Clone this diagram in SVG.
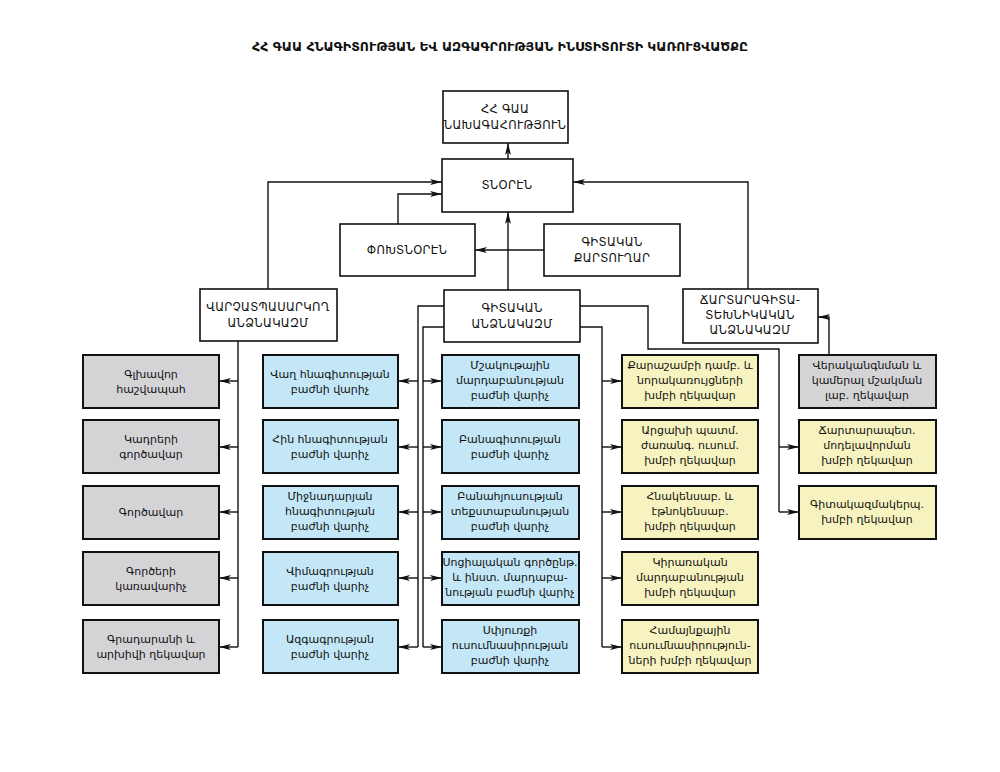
<svg xmlns="http://www.w3.org/2000/svg" width="1000" height="772" viewBox="0 0 1000 772">
<style>
text{font-family:"DejaVu Sans","Noto Sans",sans-serif;font-size:11px;text-anchor:middle;fill:#111}
.h text{font-size:11.5px;letter-spacing:0.3px}
.t{font-size:12.5px;font-weight:bold}
.h rect{fill:#fff;stroke:#111;stroke-width:1.6}
.g{fill:#d4d4d7;stroke:#111;stroke-width:2}
.b{fill:#c3e7f6;stroke:#111;stroke-width:2}
.y{fill:#f6f3c0;stroke:#111;stroke-width:2}
#c path{fill:none;stroke:#111;stroke-width:1.4}
</style>
<defs><marker id="a" viewBox="0 0 12 6" refX="12" refY="3" markerWidth="12" markerHeight="6" markerUnits="userSpaceOnUse" orient="auto"><path d="M0,0L12,3L0,6L3,3z" fill="#111"/></marker></defs>
<text class="t" x="500" y="51">ՀՀ ԳԱԱ ՀՆԱԳԻՏՈՒԹՅԱՆ ԵՎ ԱԶԳԱԳՐՈՒԹՅԱՆ ԻՆՍՏԻՏՈՒՏԻ ԿԱՌՈՒՑՎԱԾՔԸ</text>
<g id="c">
<path d="M508,159V143" marker-end="url(#a)"/>
<path d="M268,289V182H442" marker-end="url(#a)"/>
<path d="M398,224V194H442" marker-end="url(#a)"/>
<path d="M544,250H475" marker-end="url(#a)"/>
<path d="M508,290V212" marker-end="url(#a)"/>
<path d="M748,289V182H573" marker-end="url(#a)"/>
<path d="M829,355V317H818" marker-end="url(#a)"/>
<path d="M238,341V647"/>
<path d="M238,381H219" marker-end="url(#a)"/><path d="M238,447H219" marker-end="url(#a)"/><path d="M238,512H219" marker-end="url(#a)"/><path d="M238,578H219" marker-end="url(#a)"/><path d="M238,647H219" marker-end="url(#a)"/>
<path d="M444,306H418V647"/>
<path d="M418,381H398" marker-end="url(#a)"/><path d="M418,447H398" marker-end="url(#a)"/><path d="M418,512H398" marker-end="url(#a)"/><path d="M418,578H398" marker-end="url(#a)"/><path d="M418,647H398" marker-end="url(#a)"/>
<path d="M444,327H423V647"/>
<path d="M423,381H442" marker-end="url(#a)"/><path d="M423,447H442" marker-end="url(#a)"/><path d="M423,512H442" marker-end="url(#a)"/><path d="M423,578H442" marker-end="url(#a)"/><path d="M423,647H442" marker-end="url(#a)"/>
<path d="M580,327H602V647"/>
<path d="M602,381H622" marker-end="url(#a)"/><path d="M602,447H622" marker-end="url(#a)"/><path d="M602,512H622" marker-end="url(#a)"/><path d="M602,578H622" marker-end="url(#a)"/><path d="M602,647H622" marker-end="url(#a)"/>
<path d="M580,306H648V349H779V512"/>
<path d="M779,447H799" marker-end="url(#a)"/><path d="M779,512H799" marker-end="url(#a)"/>
</g>
<g class="h">
<g id="n-pres"><rect x="443" y="91" width="125" height="52"/><text x="505" y="113">ՀՀ ԳԱԱ</text><text x="505" y="129">ՆԱԽԱԳԱՀՈՒԹՅՈՒՆ</text></g>
<g id="n-dir"><rect x="442" y="159" width="131" height="53"/><text x="507" y="189">ՏՆՕՐԷՆ</text></g>
<g id="n-dep"><rect x="340" y="224" width="135" height="52"/><text x="407" y="254">ՓՈԽՏՆՕՐԷՆ</text></g>
<g id="n-sec"><rect x="544" y="224" width="136" height="52"/><text x="612" y="246">ԳԻՏԱԿԱՆ</text><text x="612" y="262">ՔԱՐՏՈՒՂԱՐ</text></g>
<g id="n-adm"><rect x="200" y="289" width="137" height="52"/><text x="268" y="311">ՎԱՐՉԱՏՊԱՍԱՐԿՈՂ</text><text x="268" y="327">ԱՆՁՆԱԿԱԶՄ</text></g>
<g id="n-sci"><rect x="444" y="290" width="136" height="52"/><text x="512" y="312">ԳԻՏԱԿԱՆ</text><text x="512" y="328">ԱՆՁՆԱԿԱԶՄ</text></g>
<g id="n-eng"><rect x="683" y="289" width="135" height="54"/><text x="750" y="304">ՃԱՐՏԱՐԱԳԻՏԱ-</text><text x="750" y="319">ՏԵԽՆԻԿԱԿԱՆ</text><text x="750" y="334">ԱՆՁՆԱԿԱԶՄ</text></g>
</g>
<g id="g1"><rect class="g" x="83" y="355" width="136" height="53"/><text x="151" y="378">Գլխավոր</text><text x="151" y="393">հաշվապահ</text></g>
<g id="g2"><rect class="g" x="83" y="420" width="136" height="53"/><text x="151" y="443">Կադրերի</text><text x="151" y="458">գործավար</text></g>
<g id="g3"><rect class="g" x="83" y="486" width="136" height="53"/><text x="151" y="516">Գործավար</text></g>
<g id="g4"><rect class="g" x="83" y="552" width="136" height="53"/><text x="151" y="575">Գործերի</text><text x="151" y="590">կառավարիչ</text></g>
<g id="g5"><rect class="g" x="83" y="620" width="136" height="53"/><text x="151" y="643">Գրադարանի և</text><text x="151" y="658">արխիվի ղեկավար</text></g>
<g id="b1"><rect class="b" x="263" y="355" width="135" height="53"/><text x="330" y="378">Վաղ հնագիտության</text><text x="330" y="393">բաժնի վարիչ</text></g>
<g id="b2"><rect class="b" x="263" y="420" width="135" height="53"/><text x="330" y="443">Հին հնագիտության</text><text x="330" y="458">բաժնի վարիչ</text></g>
<g id="b3"><rect class="b" x="263" y="486" width="135" height="53"/><text x="330" y="500">Միջնադարյան</text><text x="330" y="515">հնագիտության</text><text x="330" y="530">բաժնի վարիչ</text></g>
<g id="b4"><rect class="b" x="263" y="552" width="135" height="53"/><text x="330" y="575">Վիմագրության</text><text x="330" y="590">բաժնի վարիչ</text></g>
<g id="b5"><rect class="b" x="263" y="620" width="135" height="53"/><text x="330" y="643">Ազգագրության</text><text x="330" y="658">բաժնի վարիչ</text></g>
<g id="b6"><rect class="b" x="442" y="355" width="137" height="53"/><text x="510" y="369">Մշակութային</text><text x="510" y="384">մարդաբանության</text><text x="510" y="399">բաժնի վարիչ</text></g>
<g id="b7"><rect class="b" x="442" y="420" width="137" height="53"/><text x="510" y="443">Բանագիտության</text><text x="510" y="458">բաժնի վարիչ</text></g>
<g id="b8"><rect class="b" x="442" y="486" width="137" height="53"/><text x="510" y="500">Բանահյուսության</text><text x="510" y="515">տեքստաբանության</text><text x="510" y="530">բաժնի վարիչ</text></g>
<g id="b9"><rect class="b" x="442" y="552" width="137" height="53"/><text x="510" y="566">Սոցիալական գործընթ.</text><text x="510" y="581">և ինստ. մարդաբա-</text><text x="510" y="596">նության բաժնի վարիչ</text></g>
<g id="b10"><rect class="b" x="442" y="620" width="137" height="53"/><text x="510" y="634">Սփյուռքի</text><text x="510" y="649">ուսումնասիրության</text><text x="510" y="664">բաժնի վարիչ</text></g>
<g id="y1"><rect class="y" x="622" y="355" width="136" height="53"/><text x="690" y="369">Քարաշամբի դամբ. և</text><text x="690" y="384">նորակառույցների</text><text x="690" y="399">խմբի ղեկավար</text></g>
<g id="y2"><rect class="y" x="622" y="420" width="136" height="53"/><text x="690" y="434">Արցախի պատմ.</text><text x="690" y="449">ժառանգ. ուսում.</text><text x="690" y="464">խմբի ղեկավար</text></g>
<g id="y3"><rect class="y" x="622" y="486" width="136" height="53"/><text x="690" y="500">Հնակենսաբ. և</text><text x="690" y="515">էթնոկենսաբ.</text><text x="690" y="530">խմբի ղեկավար</text></g>
<g id="y4"><rect class="y" x="622" y="552" width="136" height="53"/><text x="690" y="566">Կիրառական</text><text x="690" y="581">մարդաբանության</text><text x="690" y="596">խմբի ղեկավար</text></g>
<g id="y5"><rect class="y" x="622" y="620" width="136" height="53"/><text x="690" y="634">Համայնքային</text><text x="690" y="649">ուսումնասիրություն-</text><text x="690" y="664">ների խմբի ղեկավար</text></g>
<g id="e1"><rect class="g" x="799" y="355" width="137" height="53"/><text x="867" y="369">Վերականգնման և</text><text x="867" y="384">կամերալ մշակման</text><text x="867" y="399">լաբ. ղեկավար</text></g>
<g id="e2"><rect class="y" x="799" y="420" width="137" height="53"/><text x="867" y="434">Ճարտարապետ.</text><text x="867" y="449">մոդելավորման</text><text x="867" y="464">խմբի ղեկավար</text></g>
<g id="e3"><rect class="y" x="799" y="486" width="137" height="53"/><text x="867" y="508">Գիտակազմակերպ.</text><text x="867" y="523">խմբի ղեկավար</text></g>
</svg>
